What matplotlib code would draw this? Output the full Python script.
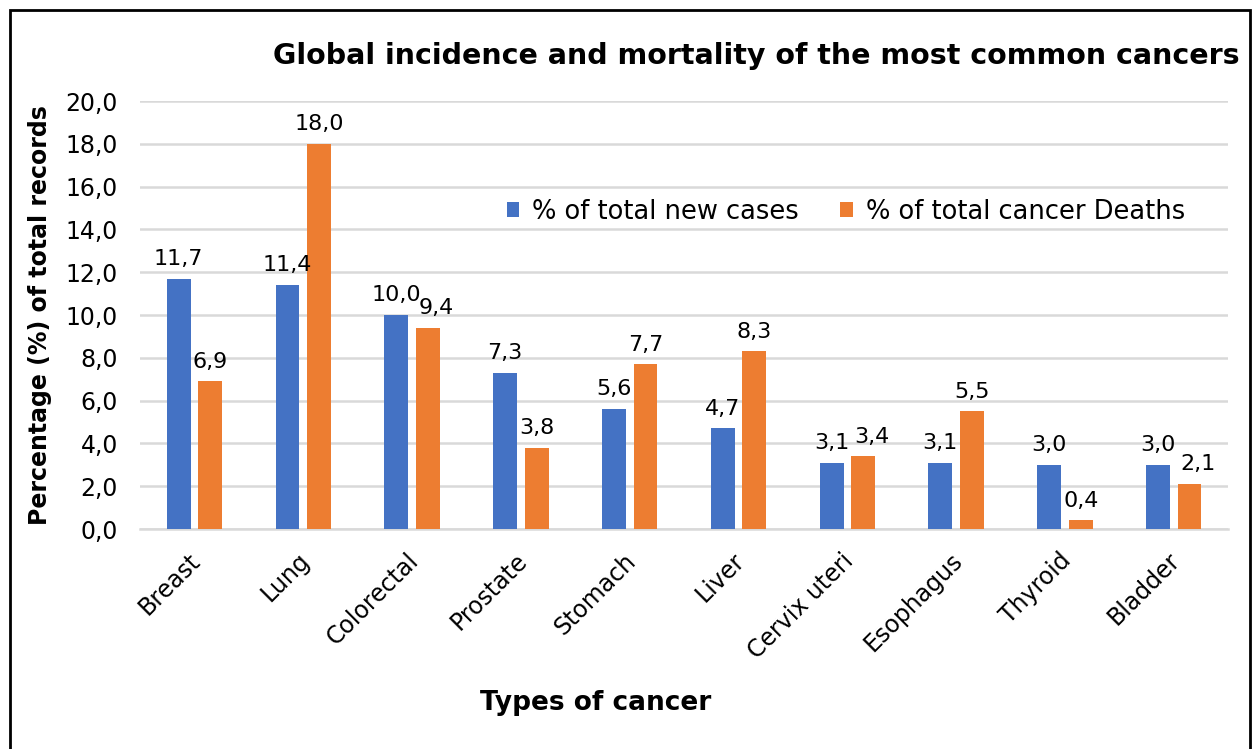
import numpy as np
import matplotlib.pyplot as plt
import matplotlib.transforms as mtransforms
from matplotlib.patches import Rectangle

# chart data
cancers = ["Breast", "Lung", "Colorectal", "Prostate", "Stomach",
           "Liver", "Cervix uteri", "Esophagus", "Thyroid", "Bladder"]
new_cases = [11.7, 11.4, 10.0, 7.3, 5.6, 4.7, 3.1, 3.1, 3.0, 3.0]
deaths = [6.9, 18.0, 9.4, 3.8, 7.7, 8.3, 3.4, 5.5, 0.4, 2.1]
yticks = [0, 2, 4, 6, 8, 10, 12, 14, 16, 18, 20]

blue = "#4472C4"
orange = "#ED7D31"
grid_col = "#D9D9D9"


def comma(v):
    return f"{v:.1f}".replace(".", ",")


plt.rcParams['font.family'] = ['DejaVu Sans']

fig = plt.figure(figsize=(12.55, 7.49), dpi=100)
ax = fig.add_axes([0.1116, 0.2937, 0.867, 0.5713])

x = np.arange(len(cancers))
w = 0.22
gap = 0.07
b1 = ax.bar(x - (w + gap) / 2, new_cases, w, color=blue, label="% of total new cases", zorder=3)
b2 = ax.bar(x + (w + gap) / 2, deaths, w, color=orange, label="% of total cancer Deaths", zorder=3)

# value labels; when the two bars are close in height the deaths label is
# pushed a little to the right, like Excel does
for i in range(len(cancers)):
    for r, dx in ((b1[i], 0), (b2[i], 6 if abs(deaths[i] - new_cases[i]) < 1 else 0)):
        ax.annotate(comma(r.get_height()), (r.get_x() + r.get_width() / 2, r.get_height()),
                    xytext=(dx, 7), textcoords="offset points", ha="center", va="bottom",
                    fontsize=16, color="#000000")

ax.set_xlim(-0.5, len(cancers) - 0.5)
ax.set_ylim(0, 20)
ax.set_yticks(yticks)
ax.set_yticklabels([comma(v) for v in yticks], fontsize=17)
ax.set_xticks(x)
ax.set_xticklabels(cancers, rotation=45, ha="right", rotation_mode="anchor", fontsize=17)
ax.tick_params(axis="y", length=0, pad=16)
ax.tick_params(axis="x", length=0, pad=14)

# nudge category labels a bit to the left
shift = mtransforms.ScaledTranslation(-6 / 100, 0, fig.dpi_scale_trans)
for lbl in ax.get_xticklabels():
    lbl.set_transform(lbl.get_transform() + shift)

ax.grid(axis="y", color=grid_col, lw=1.8, zorder=0)
for s in ("top", "right", "left"):
    ax.spines[s].set_visible(False)
ax.spines["bottom"].set_color(grid_col)
ax.spines["bottom"].set_linewidth(1.8)

ax.set_ylabel("Percentage (%) of total records", fontsize=17, fontweight="bold")
ax.yaxis.set_label_coords(-0.081, 0.5)
ax.set_xlabel("Types of cancer", fontsize=19, fontweight="bold")
ax.xaxis.set_label_coords(0.419, -0.4065)
ax.xaxis.label.set_va("center")

leg = ax.legend(loc="center left", bbox_to_anchor=(0.325, 0.741), ncol=2, frameon=False,
                fontsize=18.5, handlelength=0.5, handleheight=0.5, handletextpad=0.5,
                columnspacing=1.6, borderpad=0)

fig.text(0.603, 0.925, "Global incidence and mortality of the most common cancers",
         ha="center", va="center", fontsize=20.5, fontweight="bold")

# outer frame
fig.patches.append(Rectangle((10 / 1255, -0.05), 1240 / 1255, 1.05 - 10 / 749,
                             transform=fig.transFigure, fill=False, lw=2,
                             edgecolor="black", clip_on=False))

fig.savefig("out.png", dpi=100)
